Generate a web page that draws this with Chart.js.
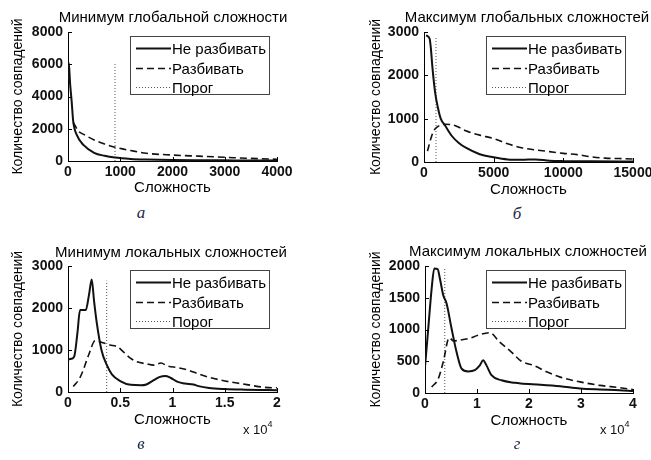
<!DOCTYPE html>
<html>
<head>
<meta charset="utf-8">
<script src="https://cdn.jsdelivr.net/npm/chart.js@4.4.1/dist/chart.umd.min.js"></script>
<style>
  body { margin: 0; background: #fff; }
  #page { position: relative; width: 651px; height: 460px; overflow: hidden; background: #fff; }
  canvas { position: absolute; }
  .ttl { position: absolute; transform: translateX(-50%); white-space: nowrap;
         font: 15px "Liberation Sans", Arial, sans-serif; color: #000; line-height: 18px; }
  .let { position: absolute; transform: translateX(-50%); font: italic 17px "Liberation Serif", serif;
         color: #1c2744; line-height: 18px; }
  .mult { position: absolute; font: 13px "Liberation Sans", Arial, sans-serif; color: #111; line-height: 14px; }
  .mult sup { font-size: 9px; position: relative; top: -2px; }
</style>
</head>
<body>
<div id="page">
  <canvas id="cA" width="325" height="200" style="left:0;top:0"></canvas>
  <canvas id="cB" width="340" height="200" style="left:325px;top:0"></canvas>
  <canvas id="cC" width="325" height="200" style="left:0;top:230px"></canvas>
  <canvas id="cD" width="340" height="200" style="left:325px;top:230px"></canvas>

  <div class="ttl" style="left:173px;top:8px">Минимум глобальной сложности</div>
  <div class="ttl" style="left:527px;top:8px">Максимум глобальных сложностей</div>
  <div class="ttl" style="left:171px;top:243px">Минимум локальных сложностей</div>
  <div class="ttl" style="left:528px;top:242px">Максимум локальных сложностей</div>

  <div class="mult" style="left:243px;top:419px">x 10<sup>4</sup></div>
  <div class="mult" style="left:600px;top:419px">x 10<sup>4</sup></div>

  <div class="let" style="left:141px;top:204px">а</div>
  <div class="let" style="left:517px;top:205px">б</div>
  <div class="let" style="left:141px;top:435px">в</div>
  <div class="let" style="left:517px;top:435px">г</div>
</div>
<script>
// legend labels
var labels = ['Не разбивать', 'Разбивать', 'Порог'];

// а: минимум глобальной сложности
var aSolidX = [0, 15, 40, 70, 100, 170, 300, 500, 700, 900, 1200, 1500, 2000, 2500, 3000, 3500, 4000];
var aSolidY = [5000, 6100, 4800, 3700, 2450, 1600, 980, 510, 320, 210, 130, 95, 65, 50, 40, 30, 25];
var aDashX = [100, 200, 300, 500, 700, 900, 1200, 1500, 2000, 2500, 3000, 3500, 4000];
var aDashY = [2400, 1850, 1650, 1300, 1050, 850, 650, 480, 370, 300, 230, 160, 110];
var aThreshold = [900, 6100];
var aXTicks = [0, 1000, 2000, 3000, 4000];
var aYTicks = [0, 2000, 4000, 6000, 8000];

// б: максимум глобальных сложностей
var bSolidX = [150, 400, 500, 600, 800, 1000, 1200, 1500, 2000, 2500, 3000, 4000, 5000, 6000, 7000, 8000, 9000, 10000, 12000, 15000];
var bSolidY = [2920, 2850, 2600, 2200, 1600, 1250, 1000, 850, 600, 440, 330, 180, 110, 60, 50, 60, 30, 20, 15, 10];
var bDashX = [250, 500, 700, 1000, 1500, 2000, 2500, 3000, 4000, 5000, 6000, 7000, 8000, 9000, 10000, 11000, 12000, 13000, 14000, 15000];
var bDashY = [250, 550, 720, 820, 870, 860, 800, 720, 620, 540, 420, 330, 280, 240, 200, 170, 120, 90, 80, 70];
var bThreshold = [860, 2900];
var bXTicks = [0, 5000, 10000, 15000];
var bYTicks = [0, 1000, 2000, 3000];

// в: минимум локальных сложностей
var cSolidX = [0, 300, 600, 900, 1150, 1700, 2000, 2270, 2500, 2750, 3200, 3700, 4200, 5000, 6000, 7000, 7500, 8200, 8800, 9300, 9800, 10500, 11200, 12000, 12500, 13500, 15000, 17000, 19000, 20000];
var cSolidY = [770, 790, 850, 1400, 1950, 1950, 2300, 2680, 2150, 1650, 1000, 650, 420, 260, 170, 160, 180, 280, 360, 380, 340, 240, 200, 180, 140, 95, 70, 55, 45, 40];
var cDashX = [500, 1100, 1500, 2000, 2600, 3000, 3500, 4000, 4700, 5200, 6000, 6600, 7500, 8200, 8900, 9500, 10500, 11500, 12500, 13500, 14500, 15500, 16500, 17500, 18500, 19500, 20000];
var cDashY = [130, 320, 550, 900, 1220, 1200, 1160, 1120, 1080, 980, 800, 720, 670, 640, 690, 620, 580, 520, 430, 350, 290, 240, 200, 160, 120, 100, 100];
var cThreshold = [3700, 2650];
var cXTicks = [0, 5000, 10000, 15000, 20000];
var cYTicks = [0, 1000, 2000, 3000];

// г: максимум локальных сложностей
var dSolidX = [0, 600, 1280, 1780, 2430, 2870, 3510, 4150, 5110, 6070, 7030, 8300, 9580, 10540, 11180, 11820, 12780, 14700, 17300, 18400, 22200, 26000, 29800, 33600, 37400, 40000];
var dSolidY = [410, 990, 1645, 1960, 1950, 1800, 1540, 1410, 1015, 645, 385, 340, 360, 435, 515, 435, 280, 200, 160, 150, 130, 105, 70, 55, 45, 30];
var dDashX = [1280, 2550, 3510, 4650, 5500, 6500, 8300, 10220, 12460, 14380, 16620, 18530, 20900, 23500, 26000, 29800, 33600, 37400, 40000];
var dDashY = [95, 225, 490, 870, 820, 830, 855, 910, 950, 800, 645, 500, 435, 330, 250, 175, 120, 85, 55];
var dThreshold = [3800, 1970];
var dXTicks = [0, 10000, 20000, 30000, 40000];
var dYTicks = [0, 500, 1000, 1500, 2000];

var innerTicks = {
  id: 'innerTicks',
  afterDraw: function (chart) {
    var ctx = chart.ctx, a = chart.chartArea;
    var xs = chart.scales.x, ys = chart.scales.y;
    ctx.save();
    ctx.strokeStyle = '#000';
    ctx.lineWidth = 1;
    ctx.beginPath();
    xs.ticks.forEach(function (t) {
      var px = Math.round(xs.getPixelForValue(t.value)) + 0.5;
      ctx.moveTo(px, a.bottom);
      ctx.lineTo(px, a.bottom - 4);
    });
    ys.ticks.forEach(function (t) {
      var py = Math.round(ys.getPixelForValue(t.value)) + 0.5;
      ctx.moveTo(a.left, py);
      ctx.lineTo(a.left + 4, py);
    });
    ctx.stroke();
    ctx.restore();
  }
};

var boxLegend = {
  id: 'boxLegend',
  afterDraw: function (chart) {
    var ctx = chart.ctx, a = chart.chartArea;
    var w = 139, h = 58;
    var left = Math.round(a.right - 8 - w), top = Math.round(a.top + 4);
    ctx.save();
    ctx.fillStyle = '#fff';
    ctx.fillRect(left, top, w, h);
    ctx.strokeStyle = '#444';
    ctx.lineWidth = 1;
    ctx.strokeRect(left + 0.5, top + 0.5, w, h);
    ctx.font = '15px "Liberation Sans", Arial, sans-serif';
    ctx.textBaseline = 'middle';
    ctx.fillStyle = '#000';
    chart.data.datasets.forEach(function (ds, i) {
      var yy = Math.round(top + 12 + i * 19.5) + 0.5;
      ctx.beginPath();
      ctx.setLineDash(ds.borderDash || []);
      ctx.lineWidth = ds.borderWidth;
      ctx.strokeStyle = ds.borderColor;
      ctx.moveTo(left + 6, yy);
      ctx.lineTo(left + 41, yy);
      ctx.stroke();
      ctx.setLineDash([]);
      ctx.fillText(ds.label, left + 42, yy + 1);
    });
    ctx.restore();
  }
};

function pts(xs, ys) {
  return xs.map(function (x, i) { return { x: x, y: ys[i] }; });
}

function makeChart(id, o) {
  var font = { family: '"Liberation Sans", Arial, sans-serif', size: 14 };
  var tickFont = { family: '"Liberation Sans", Arial, sans-serif', size: 14, weight: 'bold' };
  return new Chart(document.getElementById(id), {
    type: 'line',
    data: {
      datasets: [
        { label: labels[0], data: pts(o.solidX, o.solidY), borderColor: '#111', borderWidth: 2,
          pointRadius: 0, cubicInterpolationMode: 'monotone' },
        { label: labels[1], data: pts(o.dashX, o.dashY), borderColor: '#111', borderWidth: 1.6,
          borderDash: [7, 4], pointRadius: 0, cubicInterpolationMode: 'monotone' },
        { label: labels[2], data: [{ x: o.thr[0], y: 0 }, { x: o.thr[0], y: o.thr[1] }],
          borderColor: '#555', borderWidth: 1, borderDash: [1, 2], pointRadius: 0, tension: 0 }
      ]
    },
    options: {
      responsive: false,
      devicePixelRatio: 1,
      animation: false,
      layout: { padding: { left: 0, top: o.area[1], right: o.padRight, bottom: 0 } },
      plugins: { legend: { display: false }, tooltip: { enabled: false }, title: { display: false } },
      scales: {
        x: {
          type: 'linear', min: o.xTicks[0], max: o.xTicks[o.xTicks.length - 1],
          afterBuildTicks: function (s) { s.ticks = o.xTicks.map(function (v) { return { value: v }; }); },
          afterFit: function (s) { s.height = o.xH; },
          grid: { display: false, drawTicks: false },
          border: { display: true, color: '#000', width: 1 },
          ticks: { color: '#111', font: tickFont, padding: 3, maxRotation: 0,
                   callback: function (v) { return String(o.xScale ? v / o.xScale : v); } },
          title: { display: true, text: 'Сложность', color: '#000', font: { family: font.family, size: 15 },
                   padding: { top: 0, bottom: o.xTitlePad } }
        },
        y: {
          min: o.yTicks[0], max: o.yTicks[o.yTicks.length - 1],
          afterBuildTicks: function (s) { s.ticks = o.yTicks.map(function (v) { return { value: v }; }); },
          afterFit: function (s) { s.width = o.area[0]; },
          grid: { display: false, drawTicks: false },
          border: { display: true, color: '#000', width: 1 },
          ticks: { color: '#111', font: tickFont, padding: 5,
                   callback: function (v) { return String(v); } },
          title: { display: true, text: 'Количество совпадений', color: '#000', font: font,
                   padding: { top: o.yTitlePad, bottom: 0 } }
        }
      }
    },
    plugins: [innerTicks, boxLegend]
  });
}

// area = [plot left in canvas, plot top in canvas]
makeChart('cA', { solidX: aSolidX, solidY: aSolidY, dashX: aDashX, dashY: aDashY, thr: aThreshold,
  xTicks: aXTicks, yTicks: aYTicks, area: [68, 32], padRight: 48, xH: 39, xTitlePad: 3.6, yTitlePad: 10 });
makeChart('cB', { solidX: bSolidX, solidY: bSolidY, dashX: bDashX, dashY: bDashY, thr: bThreshold,
  xTicks: bXTicks, yTicks: bYTicks, area: [99, 32], padRight: 32, xH: 38, xTitlePad: 1, yTitlePad: 42.6 });
makeChart('cC', { solidX: cSolidX, solidY: cSolidY, dashX: cDashX, dashY: cDashY, thr: cThreshold,
  xTicks: cXTicks, yTicks: cYTicks, area: [68, 36], padRight: 48, xH: 38, xScale: 10000, xTitlePad: 1, yTitlePad: 10 });
makeChart('cD', { solidX: dSolidX, solidY: dSolidY, dashX: dDashX, dashY: dDashY, thr: dThreshold,
  xTicks: dXTicks, yTicks: dYTicks, area: [100, 36], padRight: 32, xH: 37, xScale: 10000, xTitlePad: 0, yTitlePad: 42.6 });
</script>
</body>
</html>
